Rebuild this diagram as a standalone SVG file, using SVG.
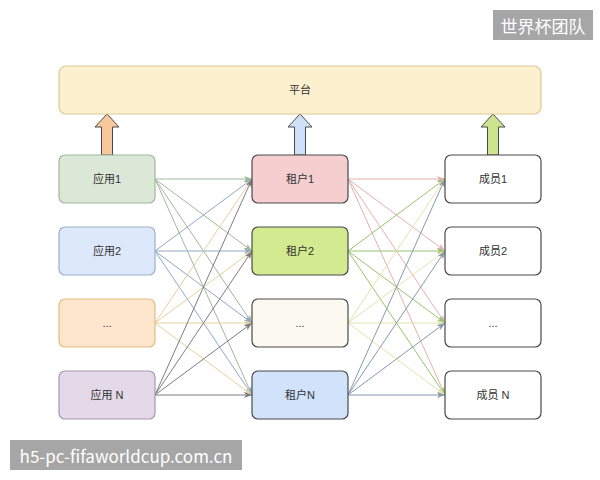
<svg xmlns="http://www.w3.org/2000/svg" width="600" height="480" viewBox="0 0 600 480">
<style>
.t{font-family:"Liberation Sans","Noto Sans CJK SC",sans-serif;font-size:11px;fill:#333;text-anchor:middle;dominant-baseline:central}
.wm{font-family:"Noto Sans CJK SC","Liberation Sans",sans-serif;font-size:17px;fill:#fff;dominant-baseline:central}
.e{fill:none;stroke-width:1}
.n{stroke-width:1.2}
</style>
<defs>
<marker id="m1" markerUnits="userSpaceOnUse" markerWidth="9" markerHeight="7" refX="8" refY="3" orient="auto"><path d="M0,0 L8,3 L0,6 L2,3 z" fill="#a0b89a"/></marker>
<marker id="m2" markerUnits="userSpaceOnUse" markerWidth="9" markerHeight="7" refX="8" refY="3" orient="auto"><path d="M0,0 L8,3 L0,6 L2,3 z" fill="#8fa8c8"/></marker>
<marker id="m3" markerUnits="userSpaceOnUse" markerWidth="9" markerHeight="7" refX="8" refY="3" orient="auto"><path d="M0,0 L8,3 L0,6 L2,3 z" fill="#e6cf9c"/></marker>
<marker id="m4" markerUnits="userSpaceOnUse" markerWidth="9" markerHeight="7" refX="8" refY="3" orient="auto"><path d="M0,0 L8,3 L0,6 L2,3 z" fill="#7c7c86"/></marker>
<marker id="m5" markerUnits="userSpaceOnUse" markerWidth="9" markerHeight="7" refX="8" refY="3" orient="auto"><path d="M0,0 L8,3 L0,6 L2,3 z" fill="#e2b0ae"/></marker>
<marker id="m6" markerUnits="userSpaceOnUse" markerWidth="9" markerHeight="7" refX="8" refY="3" orient="auto"><path d="M0,0 L8,3 L0,6 L2,3 z" fill="#96c46c"/></marker>
<marker id="m7" markerUnits="userSpaceOnUse" markerWidth="9" markerHeight="7" refX="8" refY="3" orient="auto"><path d="M0,0 L8,3 L0,6 L2,3 z" fill="#e4e2ae"/></marker>
<marker id="m8" markerUnits="userSpaceOnUse" markerWidth="9" markerHeight="7" refX="8" refY="3" orient="auto"><path d="M0,0 L8,3 L0,6 L2,3 z" fill="#8898ad"/></marker>
</defs>
<rect width="600" height="480" fill="#fff"/>

<g id="connectors">
<g stroke="#a0b89a" marker-end="url(#m1)" class="e">
<path d="M155,179 L252,179"/><path d="M155,179 L252,251"/><path d="M155,179 L252,323"/><path d="M155,179 L252,395"/>
</g>
<g stroke="#8fa8c8" marker-end="url(#m2)" class="e">
<path d="M155,251 L252,179"/><path d="M155,251 L252,251"/><path d="M155,251 L252,323"/><path d="M155,251 L252,395"/>
</g>
<g stroke="#e6cf9c" marker-end="url(#m3)" class="e">
<path d="M155,323 L252,179"/><path d="M155,323 L252,251"/><path d="M155,323 L252,323"/><path d="M155,323 L252,395"/>
</g>
<g stroke="#7c7c86" marker-end="url(#m4)" class="e">
<path d="M155,395 L252,179"/><path d="M155,395 L252,251"/><path d="M155,395 L252,323"/><path d="M155,395 L252,395"/>
</g>
<g stroke="#e2b0ae" marker-end="url(#m5)" class="e">
<path d="M348,179 L445,179"/><path d="M348,179 L445,251"/><path d="M348,179 L445,323"/><path d="M348,179 L445,395"/>
</g>
<g stroke="#96c46c" marker-end="url(#m6)" class="e">
<path d="M348,251 L445,179"/><path d="M348,251 L445,251"/><path d="M348,251 L445,323"/><path d="M348,251 L445,395"/>
</g>
<g stroke="#e4e2ae" marker-end="url(#m7)" class="e">
<path d="M348,323 L445,179"/><path d="M348,323 L445,251"/><path d="M348,323 L445,323"/><path d="M348,323 L445,395"/>
</g>
<g stroke="#8898ad" marker-end="url(#m8)" class="e">
<path d="M348,395 L445,179"/><path d="M348,395 L445,251"/><path d="M348,395 L445,323"/><path d="M348,395 L445,395"/>
</g>
<path d="M101.5,155 V127 H95 L107,114 L119,127 H112.5 V155 Z" fill="#f8c89c" stroke="#4a4a4a" stroke-width="1"/>
<path d="M294.5,155 V127 H288 L300,114 L312,127 H305.5 V155 Z" fill="#cfe0f8" stroke="#4a4a4a" stroke-width="1"/>
<path d="M487.5,155 V127 H481 L493,114 L505,127 H498.5 V155 Z" fill="#cde48f" stroke="#4a4a4a" stroke-width="1"/>
</g>

<g id="platform"><rect x="59" y="66" width="482" height="48" rx="7" fill="#fdf0cf" stroke="#dcc790" class="n"/><text class="t" x="300" y="90">平台</text></g>

<g id="app1"><rect x="59" y="155" width="96" height="48" rx="6" fill="#dbe8d8" stroke="#9fb89a" class="n"/><text class="t" x="107" y="179">应用1</text></g>
<g id="app2"><rect x="59" y="227" width="96" height="48" rx="6" fill="#dde8fa" stroke="#9bb0cc" class="n"/><text class="t" x="107" y="251">应用2</text></g>
<g id="app3"><rect x="59" y="299" width="96" height="48" rx="6" fill="#fde6cd" stroke="#e3bd80" class="n"/><text class="t" x="107" y="323">...</text></g>
<g id="appN"><rect x="59" y="371" width="96" height="48" rx="6" fill="#e3d9e8" stroke="#a898b0" class="n"/><text class="t" x="107" y="395">应用 N</text></g>

<g id="tenant1"><rect x="252" y="155" width="96" height="48" rx="6" fill="#f5cfcf" stroke="#4a4a4a" class="n"/><text class="t" x="300" y="179">租户1</text></g>
<g id="tenant2"><rect x="252" y="227" width="96" height="48" rx="6" fill="#d3ea90" stroke="#4a4a4a" class="n"/><text class="t" x="300" y="251">租户2</text></g>
<g id="tenant3"><rect x="252" y="299" width="96" height="48" rx="6" fill="#fcf9f0" stroke="#4a4a4a" class="n"/><text class="t" x="300" y="323">...</text></g>
<g id="tenantN"><rect x="252" y="371" width="96" height="48" rx="6" fill="#d0e3fb" stroke="#4a4a4a" class="n"/><text class="t" x="300" y="395">租户N</text></g>

<g id="member1"><rect x="445" y="155" width="96" height="48" rx="6" fill="#fff" stroke="#4a4a4a" class="n"/><text class="t" x="493" y="179">成员1</text></g>
<g id="member2"><rect x="445" y="227" width="96" height="48" rx="6" fill="#fff" stroke="#4a4a4a" class="n"/><text class="t" x="493" y="251">成员2</text></g>
<g id="member3"><rect x="445" y="299" width="96" height="48" rx="6" fill="#fff" stroke="#4a4a4a" class="n"/><text class="t" x="493" y="323">...</text></g>
<g id="memberN"><rect x="445" y="371" width="96" height="48" rx="6" fill="#fff" stroke="#4a4a4a" class="n"/><text class="t" x="493" y="395">成员 N</text></g>

<g id="watermark-top"><rect x="493" y="10" width="100" height="30" fill="#a6a6a6"/><text class="wm" x="543" y="25" text-anchor="middle">世界杯团队</text></g>
<g id="watermark-bottom"><rect x="10" y="440" width="232" height="30" fill="#a6a6a6"/><text class="wm" x="126" y="455" text-anchor="middle">h5-pc-fifaworldcup.com.cn</text></g>
</svg>
